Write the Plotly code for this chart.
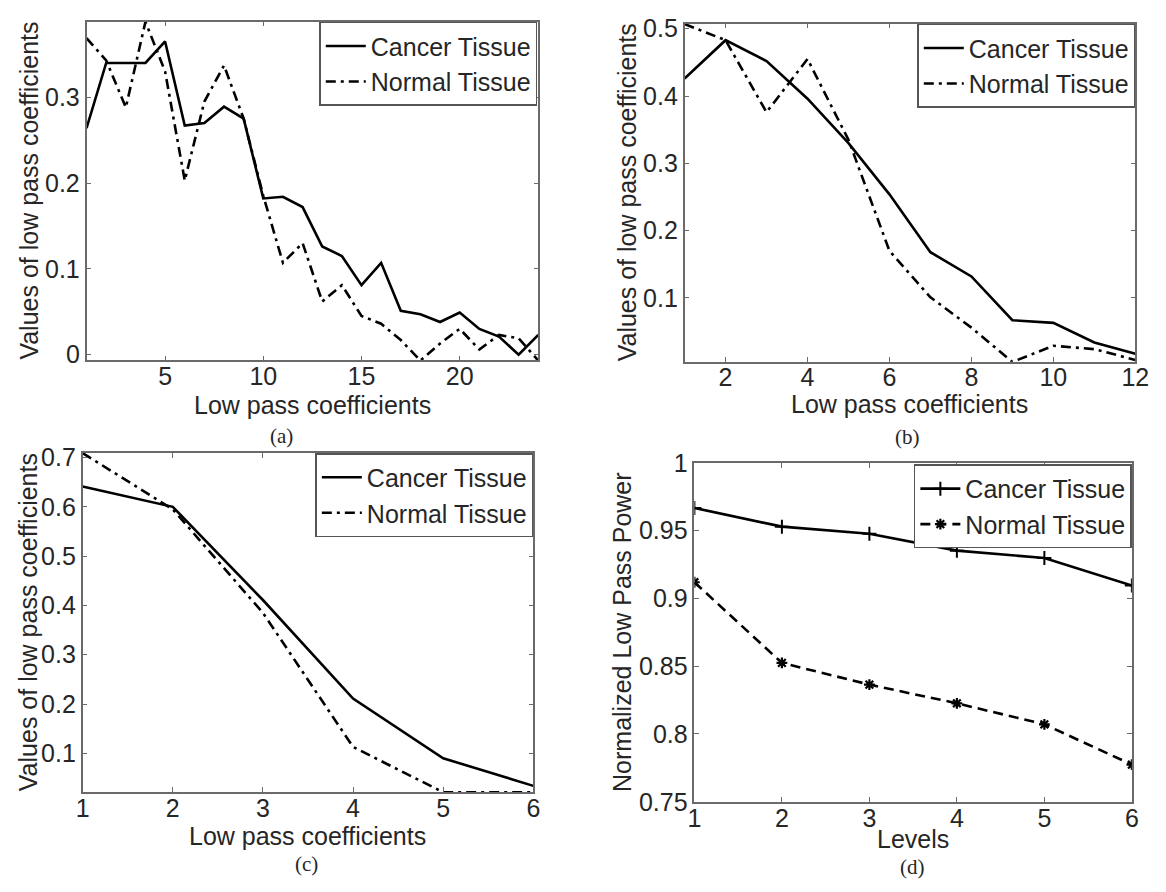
import plotly.graph_objects as go

W, H = 1166, 892

# ---------------- data ----------------
a_x = list(range(1, 25))
a_cancer = [0.264, 0.340, 0.340, 0.340, 0.365, 0.267, 0.270, 0.289, 0.275, 0.182, 0.184, 0.172,
            0.126, 0.115, 0.081, 0.107, 0.051, 0.047, 0.038, 0.049, 0.030, 0.021, 0.000, 0.023]
a_normal = [0.369, 0.343, 0.288, 0.388, 0.330, 0.203, 0.295, 0.337, 0.275, 0.185, 0.107, 0.130,
            0.062, 0.081, 0.045, 0.036, 0.017, -0.007, 0.013, 0.030, 0.006, 0.023, 0.019, -0.007]

b_x = list(range(1, 13))
b_cancer = [0.426, 0.483, 0.452, 0.396, 0.330, 0.254, 0.168, 0.132, 0.067, 0.063, 0.034, 0.017]
b_normal = [0.507, 0.483, 0.376, 0.455, 0.335, 0.170, 0.101, 0.056, 0.005, 0.029, 0.024, 0.008]

c_x = [1, 2, 3, 4, 5, 6]
c_cancer = [0.641, 0.600, 0.411, 0.211, 0.090, 0.034]
c_normal = [0.709, 0.595, 0.385, 0.113, 0.021, 0.021]

d_x = [1, 2, 3, 4, 5, 6]
d_cancer = [0.9667, 0.9529, 0.9476, 0.9352, 0.9298, 0.9095]
d_normal = [0.9119, 0.8524, 0.8364, 0.8226, 0.8071, 0.7774]

a_xticks = [5, 10, 15, 20]
a_yticks = [0, 0.1, 0.2, 0.3]
a_ytext = ["0", "0.1", "0.2", "0.3"]
b_xticks = [2, 4, 6, 8, 10, 12]
b_yticks = [0.1, 0.2, 0.3, 0.4, 0.5]
c_xticks = [1, 2, 3, 4, 5, 6]
c_yticks = [0.1, 0.2, 0.3, 0.4, 0.5, 0.6, 0.7]
d_xticks = [1, 2, 3, 4, 5, 6]
d_yticks = [0.75, 0.8, 0.85, 0.9, 0.95, 1.0]
d_ytext = ["0.75", "0.8", "0.85", "0.9", "0.95", "1"]

names = ["Cancer Tissue", "Normal Tissue"]
ylab = "Values of low pass coefficients"
xlab = "Low pass coefficients"

# ---------------- style ----------------
FONT = "Liberation Sans, Arial, sans-serif"
FS = 25
TXT = "#262626"
AX = "#6a6a6a"
LW = 2.6
DASHDOT = "10px,5px,3px,5px"

def px_x(p):
    return p / W

def px_y(p):
    return 1 - p / H

# panel boxes in pixels: left, right, top, bottom
panels = {
    "a": (81, 541, 8, 357.5),
    "b": (690, 1149, 10, 359),
    "c": (77, 536, 453.3, 803.3),
    "d": (700, 1145.5, 463.3, 813.3),
}

fig = go.Figure()
layout = dict(width=W, height=H, margin=dict(l=0, r=0, t=0, b=0),
              paper_bgcolor="white", plot_bgcolor="white",
              font=dict(family=FONT, size=FS, color=TXT), showlegend=True)
annotations = []

def axis_common(domain, rng, tickvals, ticktext=None):
    d = dict(domain=domain, range=rng, tickvals=tickvals, showgrid=False, zeroline=False,
             showline=True, linecolor=AX, linewidth=1.5, mirror="ticks", ticks="inside",
             ticklen=5, tickwidth=1.2, tickcolor=AX, tickfont=dict(family=FONT, size=FS, color=TXT),
             fixedrange=True)
    if ticktext is not None:
        d["ticktext"] = ticktext
    return d

specs = [
    ("a", 1, a_x, a_cancer, a_normal, [1, 24], [-0.0066, 0.388], a_xticks, a_yticks, a_ytext, xlab, ylab, DASHDOT, False),
    ("b", 2, b_x, b_cancer, b_normal, [1, 12], [0.0053, 0.5075], b_xticks, b_yticks, None, xlab, ylab, DASHDOT, False),
    ("c", 3, c_x, c_cancer, c_normal, [1, 6], [0.0214, 0.709], c_xticks, c_yticks, None, xlab, ylab, DASHDOT, False),
    ("d", 4, d_x, d_cancer, d_normal, [1, 6], [0.75, 1.0], d_xticks, d_yticks, d_ytext, "Levels", "Normalized Low Pass Power", "10px,6px", True),
]

ytitle_x = {"a": 22, "b": 631, "c": 21, "d": 627}
xtitle_y = {"a": 404, "b": 403, "c": 849, "d": 852}
captions = {"a": (280, 436), "b": (917, 437), "c": (305, 878), "d": (922, 881)}
legend_pos = {"a": (540, 8), "b": (1149, 10), "c": (536, 453.3), "d": (1145.5, 465)}

for key, idx, xs, can, nor, xr, yr, xt, yt, ytx, xtitle, ytitle, ndash, mk in specs:
    l, r, t, b = panels[key]
    xa = "xaxis" if idx == 1 else f"xaxis{idx}"
    ya = "yaxis" if idx == 1 else f"yaxis{idx}"
    xref = "x" if idx == 1 else f"x{idx}"
    yref = "y" if idx == 1 else f"y{idx}"
    lg = "legend" if idx == 1 else f"legend{idx}"
    layout[xa] = axis_common([px_x(l), px_x(r)], xr, xt)
    layout[xa]["anchor"] = yref
    layout[xa]["ticklabelstandoff"] = -7
    layout[ya] = axis_common([px_y(b), px_y(t)], yr, yt, ytx)
    layout[ya]["anchor"] = xref

    mode = "lines+markers" if mk else "lines"
    fig.add_trace(go.Scatter(x=xs, y=can, name=names[0], mode=mode, xaxis=xref, yaxis=yref, legend=lg,
                             line=dict(color="black", width=LW),
                             marker=dict(symbol="cross-thin-open", size=10, line=dict(color="black", width=2)),
                             cliponaxis=True))
    fig.add_trace(go.Scatter(x=xs, y=nor, name=names[1], mode=mode, xaxis=xref, yaxis=yref, legend=lg,
                             line=dict(color="black", width=LW, dash=ndash),
                             marker=dict(symbol="asterisk-open", size=9, line=dict(color="black", width=2.2)),
                             cliponaxis=True))

    lx, ly = legend_pos[key]
    layout[lg] = dict(x=px_x(lx), y=px_y(ly), xanchor="right", yanchor="top",
                      bgcolor="white", bordercolor="#555555", borderwidth=1.5,
                      font=dict(family=FONT, size=FS, color=TXT), tracegroupgap=0,
                      itemwidth=40)

    annotations.append(dict(text=xtitle, x=px_x((l + r) / 2), y=px_y(xtitle_y[key]), xref="paper", yref="paper",
                            showarrow=False, xanchor="center", yanchor="middle",
                            font=dict(family=FONT, size=FS, color=TXT)))
    annotations.append(dict(text=ytitle, x=px_x(ytitle_x[key]), y=px_y((t + b) / 2), xref="paper", yref="paper",
                            showarrow=False, xanchor="center", yanchor="middle", textangle=-90,
                            font=dict(family=FONT, size=FS, color=TXT)))
    cx, cy = captions[key]
    annotations.append(dict(text=f"({key})", x=px_x(cx), y=px_y(cy), xref="paper", yref="paper",
                            showarrow=False, xanchor="center", yanchor="middle",
                            font=dict(family="Liberation Serif, Times New Roman, serif", size=21, color=TXT)))

layout["annotations"] = annotations
fig.update_layout(**layout)
fig.write_html("out.html")
